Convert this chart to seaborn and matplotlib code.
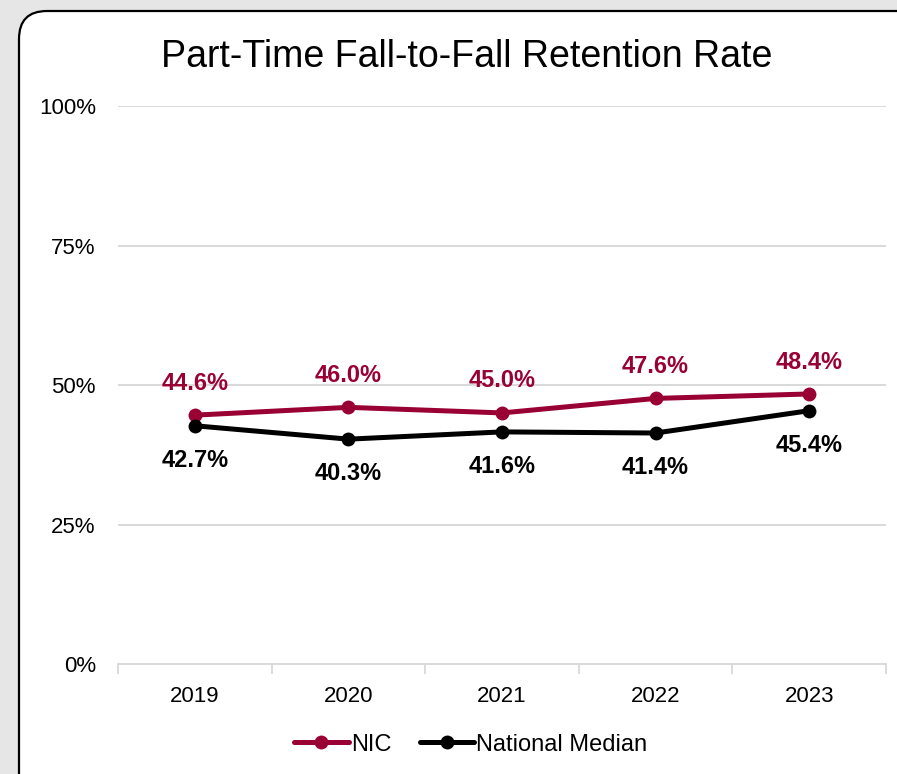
import matplotlib.pyplot as plt
import pandas as pd
import seaborn as sns
from matplotlib.patches import FancyBboxPatch
from matplotlib.transforms import IdentityTransform

years = [2019, 2020, 2021, 2022, 2023]
nic = [44.6, 46.0, 45.0, 47.6, 48.4]
national = [42.7, 40.3, 41.6, 41.4, 45.4]
series_names = ["NIC", "National Median"]
y_ticks = [0, 25, 50, 75, 100]

palette = {"NIC": "#990033", "National Median": "#000000"}

df = pd.concat(
    [
        pd.DataFrame({"Year": years, "Rate": nic, "Series": "NIC"}),
        pd.DataFrame({"Year": years, "Rate": national, "Series": "National Median"}),
    ]
)

sns.set_style("white")
plt.rcParams["font.family"] = ["Liberation Sans", "DejaVu Sans"]
plt.rcParams["text.color"] = "black"
plt.rcParams["xtick.color"] = "black"
plt.rcParams["ytick.color"] = "black"

fig = plt.figure(figsize=(8.97, 7.74), dpi=100)
fig.patch.set_facecolor("#e6e6e6")

# white rounded card behind the chart (pixel coords)
card = FancyBboxPatch(
    (19 + 28, -60 + 28),
    930 - 19 - 56,
    763 + 60 - 56,
    boxstyle="round,pad=28",
    transform=IdentityTransform(),
    facecolor="white",
    edgecolor="black",
    linewidth=1.6,
    zorder=-10,
)
fig.patches.append(card)

ax = fig.add_axes([0.1316, 0.1421, 0.8561, 0.7209])
ax.set_facecolor("none")

sns.lineplot(
    data=df,
    x="Year",
    y="Rate",
    hue="Series",
    hue_order=series_names,
    palette=palette,
    marker="o",
    markersize=10,
    markeredgewidth=0,
    linewidth=3.6,
    ax=ax,
    zorder=3,
)

# value labels
for x, v in zip(years, nic):
    ax.annotate(f"{v:.1f}%", (x, v), xytext=(0, 23), textcoords="offset points",
                ha="center", va="center", fontsize=17, fontweight="bold",
                color=palette["NIC"])
for x, v in zip(years, national):
    ax.annotate(f"{v:.1f}%", (x, v), xytext=(0, -25), textcoords="offset points",
                ha="center", va="center", fontsize=17, fontweight="bold",
                color=palette["National Median"])

ax.set_xlim(years[0] - 0.5, years[-1] + 0.5)
ax.set_ylim(0, 100)
ax.set_yticks(y_ticks)
ax.set_yticklabels([f"{t}%" for t in y_ticks])
ax.set_xticks(years)
ax.set_xticklabels([str(y) for y in years])
ax.set_xticks([y - 0.5 for y in years] + [years[-1] + 0.5], minor=True)

ax.tick_params(axis="y", length=0, labelsize=16, pad=16)
ax.tick_params(axis="x", which="major", length=0, labelsize=16, pad=16)
ax.tick_params(axis="x", which="minor", bottom=True, length=7, width=1.3,
               color="#d9d9d9", direction="out")
ax.yaxis.grid(True, color="#d9d9d9", linewidth=1.4)
ax.xaxis.grid(False)

for side in ["top", "right", "left"]:
    ax.spines[side].set_visible(False)
ax.spines["bottom"].set_color("#d9d9d9")
ax.spines["bottom"].set_linewidth(1.4)

ax.set_xlabel("")
ax.set_ylabel("")

fig.text(0.52, 0.927, "Part-Time Fall-to-Fall Retention Rate", ha="center",
         va="center", fontsize=27)

handles, labels = ax.get_legend_handles_labels()
ax.legend(handles, labels, loc="center", bbox_to_anchor=(0.525, 0.038),
          bbox_transform=fig.transFigure, ncol=2, frameon=False, fontsize=17,
          handlelength=2.3, handletextpad=0.1, columnspacing=1.2)

fig.savefig("out.png", dpi=100, facecolor=fig.get_facecolor())
